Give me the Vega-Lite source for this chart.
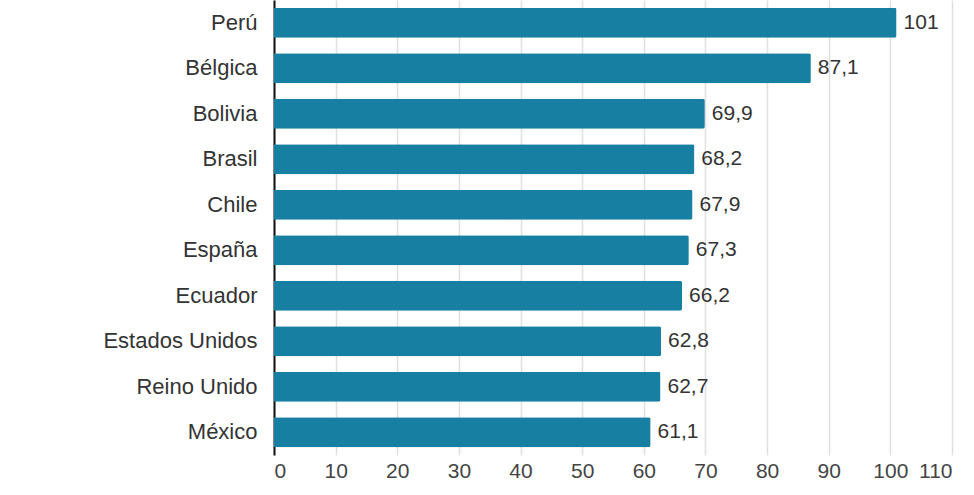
{
  "$schema": "https://vega.github.io/schema/vega-lite/v6.json",
  "width": 678,
  "height": 455,
  "autosize": {"type": "none"},
  "padding": {"left": 274, "top": 0, "right": 22, "bottom": 40},
  "background": "white",
  "config": {
    "view": {"stroke": null},
    "font": "Liberation Sans",
    "locale": {"number": {"decimal": ",", "thousands": ".", "grouping": [3], "currency": ["", " €"]}}
  },
  "data": {
    "values": [
      {"pais": "Perú", "valor": 101},
      {"pais": "Bélgica", "valor": 87.1},
      {"pais": "Bolivia", "valor": 69.9},
      {"pais": "Brasil", "valor": 68.2},
      {"pais": "Chile", "valor": 67.9},
      {"pais": "España", "valor": 67.3},
      {"pais": "Ecuador", "valor": 66.2},
      {"pais": "Estados Unidos", "valor": 62.8},
      {"pais": "Reino Unido", "valor": 62.7},
      {"pais": "México", "valor": 61.1}
    ]
  },
  "encoding": {
    "y": {
      "field": "pais", "type": "nominal", "sort": null,
      "scale": {"paddingInner": 0.34, "paddingOuter": 0.17},
      "axis": {
        "title": null, "ticks": false, "domain": true, "domainColor": "#111111", "domainWidth": 2,
        "labelFontSize": 22, "labelColor": "#333333", "labelPadding": 17, "grid": false
      }
    },
    "x": {
      "field": "valor", "type": "quantitative",
      "scale": {"domain": [0, 110], "nice": false},
      "axis": {
        "title": null, "values": [0,10,20,30,40,50,60,70,80,90,100,110], "format": "d",
        "domain": false, "ticks": false, "grid": true, "gridColor": "#e0e0e0", "gridWidth": 1.5,
        "labelFontSize": 21, "labelColor": "#444444", "labelPadding": 5
      }
    }
  },
  "layer": [
    {"mark": {"type": "bar", "color": "#177fa1", "cornerRadiusEnd": 2}},
    {
      "mark": {"type": "text", "align": "left", "baseline": "middle", "dx": 7, "fontSize": 21, "color": "#333333"},
      "encoding": {"text": {"field": "valor", "type": "quantitative", "format": ".1~f"}}
    }
  ]
}
